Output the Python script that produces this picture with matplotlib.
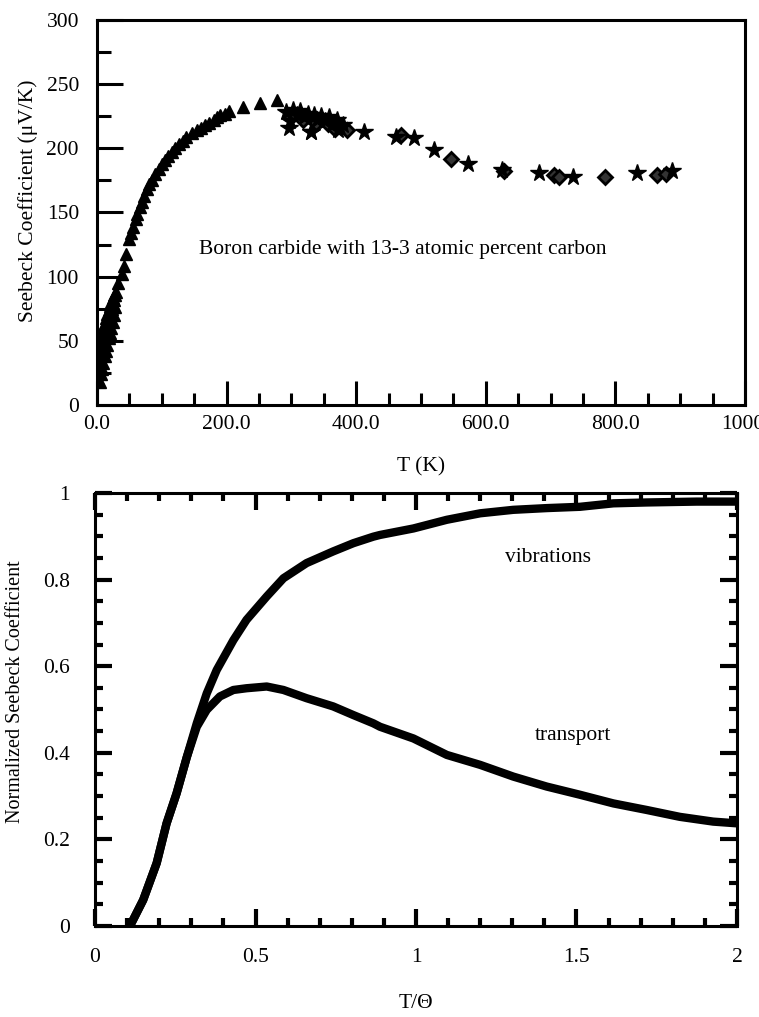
import matplotlib
matplotlib.use('Agg')
import matplotlib.pyplot as plt
from matplotlib.ticker import MultipleLocator

plt.rcParams['font.family'] = ['Liberation Serif', 'DejaVu Serif']
plt.rcParams['font.size'] = 15.5

# Top panel: Seebeck coefficient of boron carbide (13.3 at.% C)
tri_T = [2, 3, 4, 5, 6, 7, 8, 9, 10, 11, 12, 13, 14, 15, 16, 17, 18, 19, 20, 21, 22, 23, 24, 25, 26, 27, 28,
         4, 6, 8, 10, 12, 14, 16, 18, 20, 22, 24, 26, 28, 30,
         33, 38, 41, 44, 49, 53, 56, 60, 62, 66, 69, 73, 77, 81, 85, 90, 95, 100, 105, 110, 115, 120,
         126, 132, 138, 146, 154, 160, 167, 173, 180, 185, 190, 197, 203, 226, 251, 277]
tri_S = [20, 28, 18, 34, 24, 40, 28, 45, 33, 50, 38, 55, 42, 59, 47, 63, 52, 67, 56, 71, 60, 75, 65, 79, 70, 82, 76,
         40, 48, 55, 60, 64, 68, 71, 74, 77, 80, 83, 86, 86, 88,
         95, 102, 108, 118, 129, 134, 139, 145, 149, 154, 158, 163, 168, 172, 175, 180, 184, 188, 191, 194, 197, 200,
         203, 206, 209, 212, 214, 216, 218, 220, 222, 224, 226, 227, 229, 232, 235, 238]

star_T = [292, 298, 303, 308, 314, 320, 326, 330, 335, 340, 346, 352, 358, 364, 370, 375, 380,
          296, 330, 372, 412, 461, 489, 520, 573, 625, 682, 735, 833, 887]
star_S = [228, 221, 230, 226, 229, 224, 227, 213, 226, 222, 225, 221, 224, 219, 222, 216, 218,
          216, 213, 214, 213, 209, 208, 199, 188, 183, 181, 178, 181, 182]

dia_T = [300, 318, 338, 356, 368, 386, 469, 546, 628, 705, 713, 784, 864, 878]
dia_S = [224, 222, 220, 219, 215, 214, 210, 192, 182, 179, 178, 178, 179, 180]

# Bottom panel: normalized Seebeck coefficient vs T/Theta
vib_x = [0.109, 0.15, 0.192, 0.223, 0.254, 0.286, 0.317, 0.348, 0.379, 0.431, 0.472, 0.535, 0.587,
         0.659, 0.742, 0.805, 0.867, 0.888, 0.992, 1.096, 1.2, 1.303, 1.407, 1.511, 1.615, 1.718, 1.874, 2.0]
vib_y = [0.0, 0.06, 0.145, 0.237, 0.306, 0.39, 0.468, 0.537, 0.591, 0.66, 0.707, 0.761, 0.803,
         0.838, 0.865, 0.884, 0.899, 0.903, 0.918, 0.938, 0.953, 0.961, 0.965, 0.968, 0.976, 0.978, 0.98, 0.98]

tr_x = [0.109, 0.15, 0.192, 0.223, 0.254, 0.286, 0.317, 0.348, 0.389, 0.431, 0.472, 0.535, 0.587,
        0.659, 0.742, 0.805, 0.867, 0.888, 0.992, 1.096, 1.2, 1.303, 1.407, 1.511, 1.615, 1.718, 1.822, 1.926, 2.0]
tr_y = [0.0, 0.06, 0.145, 0.237, 0.306, 0.39, 0.46, 0.499, 0.53, 0.545, 0.549, 0.553, 0.545,
        0.526, 0.507, 0.487, 0.468, 0.46, 0.433, 0.395, 0.372, 0.345, 0.322, 0.303, 0.283, 0.268, 0.252, 0.241, 0.237]

fig = plt.figure(figsize=(7.59, 10.17), dpi=100)

# top panel
ax1 = fig.add_axes([0.1278, 0.6018, 0.8538, 0.3786])
ax1.plot(tri_T, tri_S, '^', color='black', ms=9, mec='black')
ax1.plot(dia_T, dia_S, 'D', mfc='0.2', mec='black', mew=2, ms=7)
ax1.plot(star_T, star_S, '*', color='black', ms=13, mec='black')
ax1.set_xlim(0, 1000)
ax1.set_ylim(0, 300)
ax1.xaxis.set_minor_locator(MultipleLocator(50))
ax1.yaxis.set_major_locator(MultipleLocator(50))
ax1.yaxis.set_minor_locator(MultipleLocator(25))
ax1.set_xticks([0, 200, 400, 600, 800, 1000])
ax1.set_xticklabels(['0.0', '200.0', '400.0', '600.0', '800.0', '1000.'])
ax1.tick_params(which='both', direction='in', top=False, right=False, width=2.2)
ax1.tick_params(axis='x', which='major', length=17, pad=7)
ax1.tick_params(axis='x', which='minor', length=9)
ax1.tick_params(axis='y', which='major', length=19, pad=13)
ax1.tick_params(axis='y', which='minor', length=10)
for s in ax1.spines.values():
    s.set_linewidth(2.2)
ax1.set_xlabel('T (K)', labelpad=17)
ax1.set_ylabel('Seebeck Coefficient (μV/K)')
ax1.yaxis.set_label_coords(-0.091, 0.53)
ax1.text(158, 121, 'Boron carbide with 13-3 atomic percent carbon', va='center')

# bottom panel
ax2 = fig.add_axes([0.1252, 0.0895, 0.8458, 0.4258])
ax2.plot(vib_x, vib_y, color='black', lw=6, solid_capstyle='round')
ax2.plot(tr_x, tr_y, color='black', lw=6, solid_capstyle='round')
ax2.set_xlim(0, 2)
ax2.set_ylim(0, 1)
ax2.set_xticks([0, 0.5, 1, 1.5, 2])
ax2.set_xticklabels(['0', '0.5', '1', '1.5', '2'])
ax2.xaxis.set_minor_locator(MultipleLocator(0.1))
ax2.set_yticks([0, 0.2, 0.4, 0.6, 0.8, 1.0])
ax2.set_yticklabels(['0', '0.2', '0.4', '0.6', '0.8', '1'])
ax2.yaxis.set_minor_locator(MultipleLocator(0.05))
ax2.tick_params(which='both', direction='in', top=True, right=True, width=3)
ax2.tick_params(which='major', length=12)
ax2.tick_params(which='minor', length=6)
ax2.tick_params(axis='x', which='major', pad=16)
ax2.tick_params(axis='y', which='major', pad=18)
for s in ax2.spines.values():
    s.set_linewidth(2.2)
ax2.set_xlabel('T/Θ', labelpad=19)
ax2.set_ylabel('Normalized Seebeck Coefficient', fontsize=14.5)
ax2.yaxis.set_label_coords(-0.109, 0.54)
ax2.text(1.41, 0.85, 'vibrations', ha='center', va='center')
ax2.text(1.49, 0.44, 'transport', ha='center', va='center')

fig.savefig('out.png', dpi=100)
